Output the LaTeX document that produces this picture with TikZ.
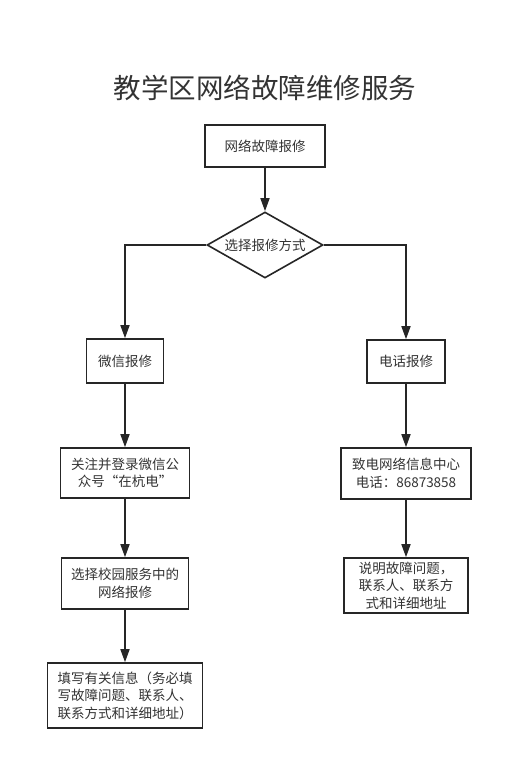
\documentclass[tikz,border=0pt]{standalone}
\usepackage{fontspec}
\setmainfont{Noto Sans CJK SC}
\usetikzlibrary{arrows.meta, shapes.geometric}
\definecolor{linegray}{HTML}{262626}
\definecolor{textgray}{HTML}{333333}

\begin{document}
\begin{tikzpicture}[x=1pt, y=-1pt,
  box/.style={draw=linegray, line width=1.6pt, fill=white, text=textgray,
    font=\fontsize{13.5}{17.5}\selectfont, align=center, inner sep=0pt},
  link/.style={draw=linegray, line width=1.6pt, -{Triangle[length=13pt, width=9pt]}}]
  \useasboundingbox (0,0) rectangle (504,761);
  \node[text=textgray, font=\fontsize{27.5}{32}\selectfont] (title) at (265,88) {教学区网络故障维修服务};
  \node[box, minimum width=120pt, minimum height=42pt] (report) at (265,146) {网络故障报修};
  \node[box, diamond, aspect=1.75, minimum width=116pt, minimum height=66pt] (choose) at (265,245) {选择报修方式};
  \node[box, minimum width=77pt, minimum height=44pt] (wechat) at (125,361) {微信报修};
  \node[box, minimum width=78pt, minimum height=43pt] (phone) at (406,361.5) {电话报修};
  \node[box, minimum width=129pt, minimum height=50pt] (follow) at (125,473) {关注并登录微信公\\众号“在杭电”};
  \node[box, minimum width=130pt, minimum height=51pt] (call) at (406,473.5) {致电网络信息中心\\电话：86873858};
  \node[box, minimum width=127pt, minimum height=51pt] (campus) at (125,583.5) {选择校园服务中的\\网络报修};
  \node[box, minimum width=124pt, minimum height=55pt] (explain) at (406,585.5) {说明故障问题，\\联系人、联系方\\式和详细地址};
  \node[box, minimum width=155pt, minimum height=65pt] (fill) at (125,695.5) {填写有关信息（务必填\\写故障问题、联系人、\\联系方式和详细地址）};
  \draw[link] (report) -- (choose);
  \draw[link] (choose.west) -| (wechat.north);
  \draw[link] (choose.east) -| (phone.north);
  \draw[link] (wechat) -- (follow);
  \draw[link] (follow) -- (campus);
  \draw[link] (campus) -- (fill);
  \draw[link] (phone) -- (call);
  \draw[link] (call) -- (explain);
\end{tikzpicture}
\end{document}
